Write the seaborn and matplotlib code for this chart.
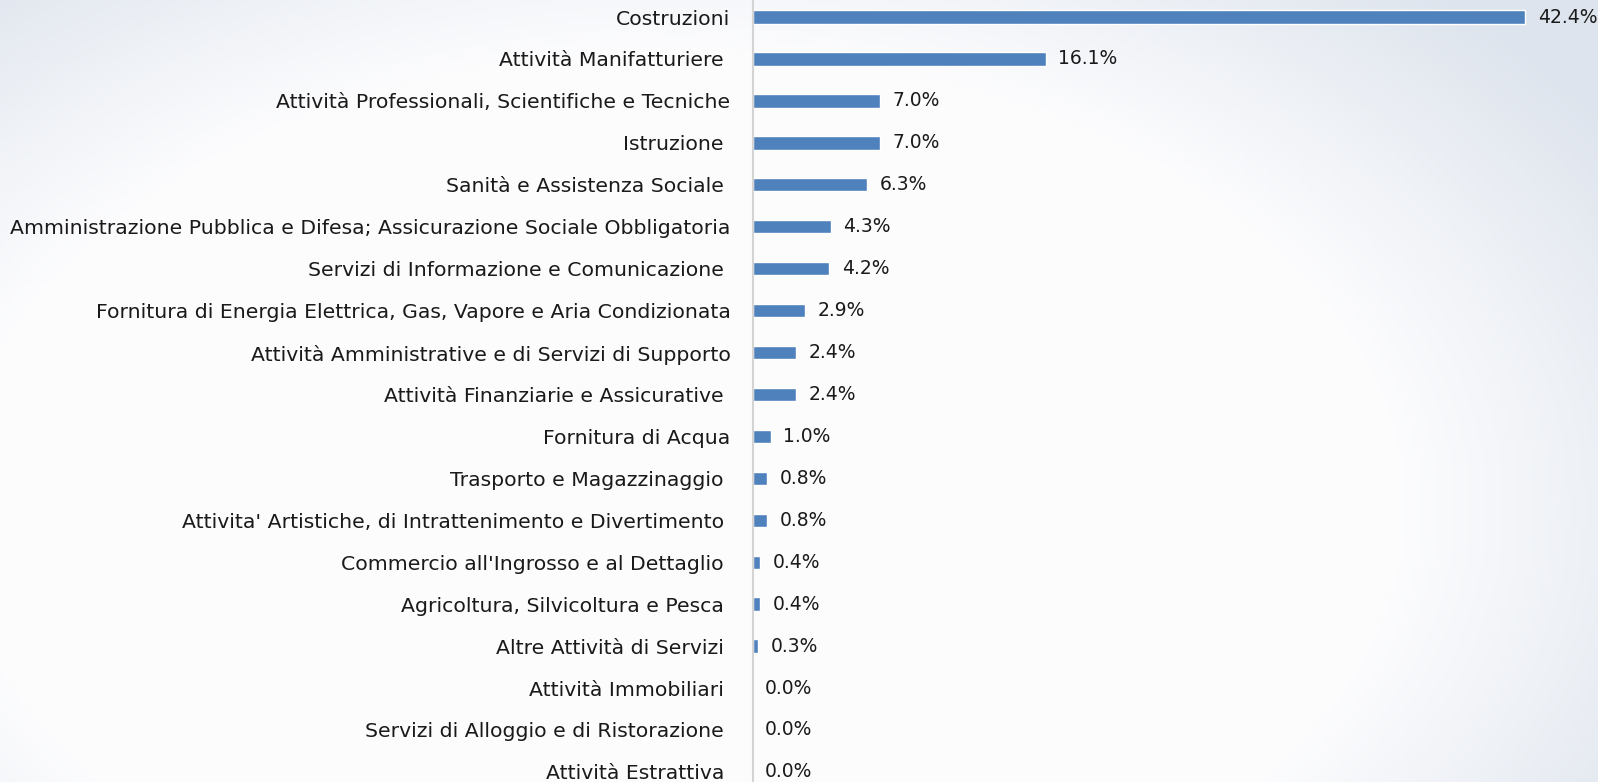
import matplotlib
matplotlib.use("Agg")
import matplotlib.pyplot as plt
import numpy as np
import pandas as pd
import seaborn as sns

categories = [
    "Costruzioni",
    "Attività Manifatturiere ",
    "Attività Professionali, Scientifiche e Tecniche",
    "Istruzione ",
    "Sanità e Assistenza Sociale ",
    "Amministrazione Pubblica e Difesa; Assicurazione Sociale Obbligatoria",
    "Servizi di Informazione e Comunicazione ",
    "Fornitura di Energia Elettrica, Gas, Vapore e Aria Condizionata",
    "Attività Amministrative e di Servizi di Supporto",
    "Attività Finanziarie e Assicurative ",
    "Fornitura di Acqua",
    "Trasporto e Magazzinaggio ",
    "Attivita' Artistiche, di Intrattenimento e Divertimento ",
    "Commercio all'Ingrosso e al Dettaglio ",
    "Agricoltura, Silvicoltura e Pesca ",
    "Altre Attività di Servizi ",
    "Attività Immobiliari ",
    "Servizi di Alloggio e di Ristorazione ",
    "Attività Estrattiva ",
]
values = [42.4, 16.1, 7.0, 7.0, 6.3, 4.3, 4.2, 2.9, 2.4, 2.4,
          1.0, 0.8, 0.8, 0.4, 0.4, 0.3, 0.0, 0.0, 0.0]

df = pd.DataFrame({"settore": categories, "quota": values})

sns.set_theme(style="white")
plt.rcParams['font.family'] = ['DejaVu Sans']

fig = plt.figure(figsize=(15.98, 7.82), dpi=100)

# soft slide-like background: white centre, grey-blue corners
bg = fig.add_axes([0, 0, 1, 1], zorder=0)
xx = np.linspace(-1, 1, 400)
yy = np.linspace(-1, 1, 200)   # row 0 = top
X, Y = np.meshgrid(xx, yy)
r = np.sqrt(((X + 0.15) / 1.1)**2 + ((Y - 0.3) * 0.7)**2)
shade = np.clip((r - 0.82) / 0.45, 0, 1)
c_white = np.array([0.99, 0.99, 0.995])
c_edge = np.array([0.87, 0.895, 0.93])
img = c_white + (c_edge - c_white) * shade[..., None]
bg.imshow(img, aspect="auto", extent=[0, 1, 0, 1])
bg.axis("off")

ax = fig.add_axes([0.471, 0.0, 0.529, 1.0], zorder=1)
ax.patch.set_alpha(0)
sns.barplot(data=df, x="quota", y="settore", color="#4F81BD",
            width=0.32, saturation=1, ax=ax)

ax.bar_label(ax.containers[0], fmt="%.1f%%", padding=9,
             fontsize=13.5, color="#1a1a1a")

ax.set_xlim(0, 46.4)
ax.set_ylim(18.24, -0.406)
ax.set_xlabel("")
ax.set_ylabel("")
ax.set_xticks([])
ax.tick_params(axis="y", length=0, pad=16, labelsize=14.7, labelcolor="#1a1a1a")
for side in ["top", "right", "bottom"]:
    ax.spines[side].set_visible(False)
ax.spines["left"].set_color("#D4D4D4")
ax.spines["left"].set_linewidth(1.5)

fig.savefig("out.png", dpi=100)
